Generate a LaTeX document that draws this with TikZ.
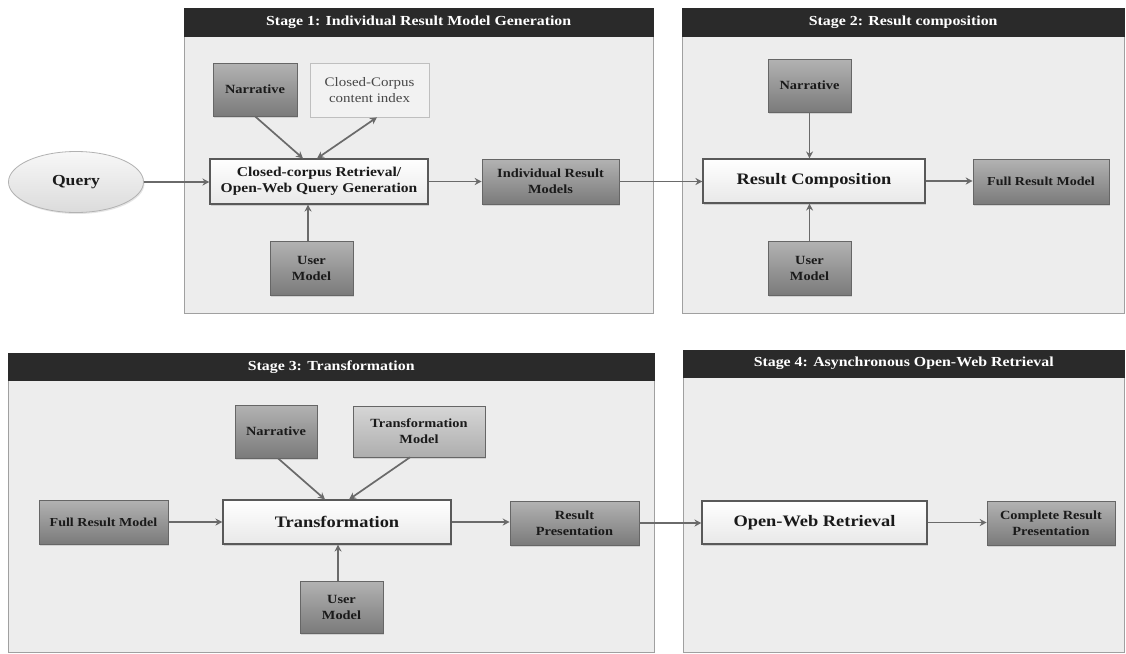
\documentclass[tikz,border=0pt]{standalone}
\usepackage{fontspec}
\setmainfont{Liberation Serif}[FakeStretch=1.15]
\usetikzlibrary{arrows.meta,shadows,shapes.geometric}

\definecolor{panelfill}{HTML}{EDEDED}
\definecolor{panelline}{HTML}{A0A0A0}
\definecolor{headfill}{HTML}{2A2A2A}
\definecolor{arrowgray}{HTML}{6A6A6A}
\definecolor{boxtext}{HTML}{1A1A1A}

\newcommand{\fs}[2]{\fontsize{#1}{#2}\selectfont}

\tikzset{
  panel/.style={fill=panelfill, draw=panelline, line width=0.8pt},
  header/.style={fill=headfill, draw=headfill, text=white, font=\bfseries\fs{13.8}{16}},
  darkbox/.style={draw=gray!80!black, line width=0.6pt, top color=black!30, bottom color=black!52,
      text=boxtext, font=\bfseries\fs{12.5}{16}, align=center, inner sep=0pt,
      drop shadow={opacity=0.25, shadow xshift=1pt, shadow yshift=-1.5pt}},
  midbox/.style={darkbox, top color=black!16, bottom color=black!32},
  lightbox/.style={draw=black!25, line width=0.6pt, fill=black!5, text=black!72,
      font=\fs{13}{16}, align=center, inner sep=0pt},
  procbox/.style={draw=black!65, line width=1.1pt, top color=white, bottom color=black!9,
      text=boxtext, font=\bfseries\fs{13.5}{16}, align=center, inner sep=0pt,
      drop shadow={opacity=0.3, shadow xshift=1pt, shadow yshift=-1.5pt}},
  bigproc/.style={procbox, font=\bfseries\fs{16}{18}},
  flow/.style={draw=arrowgray, line width=1.7pt, -{Stealth[length=7pt,width=7pt]}},
  flowboth/.style={flow, {Stealth[length=7pt,width=7pt]}-{Stealth[length=7pt,width=7pt]}},
}

\begin{document}
\begin{tikzpicture}[x=1pt, y=-1pt]
  % canvas
  \fill[white] (0,0) rectangle (1126,653);
  \useasboundingbox (0,0) rectangle (1126,653);

  % stage panels with their title bars
  \draw[panel] (184,8) rectangle (653,313);
  \node[header, minimum width=469pt, minimum height=28pt, anchor=north west] (h1) at (184,8)
    {Stage 1: Individual Result Model Generation};
  \draw[panel] (682,8) rectangle (1124,313);
  \node[header, minimum width=442pt, minimum height=28pt, anchor=north west] (h2) at (682,8)
    {Stage 2: Result composition};
  \draw[panel] (8,353) rectangle (654,652);
  \node[header, minimum width=646pt, minimum height=27pt, anchor=north west] (h3) at (8,353)
    {Stage 3: Transformation};
  \draw[panel] (683,350) rectangle (1124,652);
  \node[header, minimum width=441pt, minimum height=27pt, anchor=north west] (h4) at (683,350)
    {Stage 4: Asynchronous Open-Web Retrieval};

  % Query
  \node[ellipse, draw=black!30, line width=0.8pt, top color=black!3, bottom color=black!14,
        minimum width=135pt, minimum height=61pt, font=\bfseries\fs{15.3}{18}, text=boxtext,
        drop shadow={opacity=0.2, shadow xshift=1pt, shadow yshift=-1.5pt}]
        (query) at (76,182) {Query};

  % Stage 1
  \node[darkbox, minimum width=84pt, minimum height=53pt] (n1) at (255,89.5) {Narrative};
  \node[lightbox, minimum width=119pt, minimum height=54pt] (cci) at (369.5,90)
    {Closed-Corpus\\content index};
  \node[procbox, minimum width=218pt, minimum height=45pt] (r1) at (319,181.5)
    {Closed-corpus Retrieval/\\Open-Web Query Generation};
  \node[darkbox, minimum width=83pt, minimum height=54pt] (um1) at (311.5,268) {User\\Model};
  \node[darkbox, minimum width=137pt, minimum height=45pt] (irm) at (550.5,181.5)
    {Individual Result\\Models};

  % Stage 2
  \node[darkbox, minimum width=83pt, minimum height=53pt] (n2) at (809.5,85.5) {Narrative};
  \node[bigproc, minimum width=222pt, minimum height=44pt] (rc) at (814,181) {Result Composition};
  \node[darkbox, minimum width=83pt, minimum height=54pt] (um2) at (809.5,268) {User\\Model};
  \node[darkbox, minimum width=136pt, minimum height=45pt, font=\bfseries\fs{12.2}{16}] (frm2)
    at (1041,181.5) {Full Result Model};

  % Stage 3
  \node[darkbox, minimum width=82pt, minimum height=53pt] (n3) at (276,431.5) {Narrative};
  \node[midbox, minimum width=132pt, minimum height=51pt] (tm) at (419,431.5)
    {Transformation\\Model};
  \node[darkbox, minimum width=129pt, minimum height=44pt, font=\bfseries\fs{12.2}{16}] (frm3)
    at (103.5,522) {Full Result Model};
  \node[bigproc, minimum width=228pt, minimum height=44pt] (tr) at (337,522) {Transformation};
  \node[darkbox, minimum width=83pt, minimum height=52pt] (um3) at (341.5,607) {User\\Model};
  \node[darkbox, minimum width=129pt, minimum height=44pt] (rp) at (574.5,523)
    {Result\\Presentation};

  % Stage 4
  \node[bigproc, minimum width=225pt, minimum height=43pt] (owr) at (814.5,522.5)
    {Open-Web Retrieval};
  \node[darkbox, minimum width=128pt, minimum height=44pt] (crp) at (1051,523)
    {Complete Result\\Presentation};

  % connectors
  \draw[flow] (query.east) -- (query.east -| r1.west);
  \draw[flow] (n1.south) -- ([xshift=-16pt]r1.north);
  \draw[flowboth] ([xshift=-2pt]r1.north) -- ([xshift=7.5pt]cci.south);
  \draw[flow] ([xshift=-3.5pt]um1.north) -- ([xshift=-3.5pt]um1.north |- r1.south);
  \draw[flow] (r1.east) -- (r1.east -| irm.west);
  \draw[flow] (irm.east) -- (irm.east -| rc.west);
  \draw[flow] (n2.south) -- (n2.south |- rc.north);
  \draw[flow] (um2.north) -- (um2.north |- rc.south);
  \draw[flow] (rc.east) -- (rc.east -| frm2.west);

  \draw[flow] (frm3.east) -- (frm3.east -| tr.west);
  \draw[flow] ([xshift=2pt]n3.south) -- ([xshift=-12pt]tr.north);
  \draw[flow] ([xshift=-9pt]tm.south) -- ([xshift=12pt]tr.north);
  \draw[flow] ([xshift=-3.5pt]um3.north) -- ([xshift=-3.5pt]um3.north |- tr.south);
  \draw[flow] (tr.east) -- (tr.east -| rp.west);
  \draw[flow] (rp.east) -- (rp.east -| owr.west);
  \draw[flow] (owr.east) -- (owr.east -| crp.west);
\end{tikzpicture}
\end{document}
